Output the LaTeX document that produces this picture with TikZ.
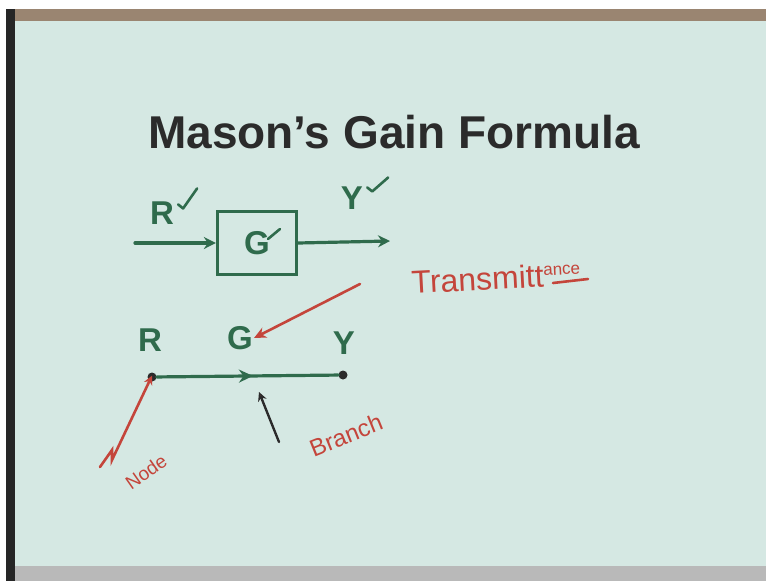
\documentclass[tikz,border=0pt]{standalone}
\usepackage{fontspec}
\setmainfont{Liberation Sans}
\usetikzlibrary{arrows.meta,decorations.markings}
\definecolor{board}{HTML}{D5E8E3}
\definecolor{pen}{HTML}{2F6B4C}
\definecolor{redpen}{HTML}{C4453B}
\definecolor{ink}{HTML}{2B2B2B}
\definecolor{frame}{HTML}{9A8571}
\begin{document}
\begin{tikzpicture}[x=1pt,y=-1pt,
  greenline/.style={draw=pen,line width=3.2pt,line cap=round},
  redline/.style={draw=redpen,line width=2.6pt,line cap=round},
  glabel/.style={text=pen,font=\bfseries\fontsize{33}{33}\selectfont,inner sep=1pt},
  rlabel/.style={text=redpen,inner sep=1pt},
  tick/.style={draw=pen,line width=2.6pt,line cap=round,line join=round},
  dotnode/.style={circle,fill=ink,inner sep=0pt,minimum size=9pt},
  blockbox/.style={draw=pen,line width=3.2pt,minimum width=79pt,minimum height=63pt,text=pen,font=\bfseries\fontsize{33}{33}\selectfont}]
\useasboundingbox (0,0) rectangle (766,581);
% photo frame and board
\fill[white] (0,0) rectangle (766,581);
\fill[board] (14,20) rectangle (766,567);
\fill[frame] (8,9) rectangle (766,21);
\fill[black!85] (6,9) rectangle (15,581);
\fill[gray!55] (15,566) rectangle (766,581);
% title
\node[text=ink,font=\bfseries\fontsize{46}{46}\selectfont] (title) at (394,132) {Mason's Gain Formula};
% block diagram
\node[blockbox] (G1) at (257,243) {G};
\coordinate (in) at (135,243);
\coordinate (out) at (390,241);
\draw[greenline,-{Stealth[length=12pt,width=12pt]}] (in) -- (G1.west);
\draw[greenline,-{Stealth[length=12pt,width=12pt]}] (G1.east) -- (out);
\node[glabel] (R1) at (162,213) {R};
\node[glabel] (Y1) at (352,198) {Y};
\draw[tick] ([xshift=3pt,yshift=-4pt]R1.north east) -- ++(5,4) -- ++(14,-20);
\draw[tick] ([xshift=3pt,yshift=-2pt]Y1.north east) -- ++(5,4) -- ++(16,-14);
\draw[tick] (G1.center) ++(11,-4) -- ++(12,-10);
% transmittance
\node[rlabel,rotate=3,font=\fontsize{32}{32}\selectfont] (trans) at (496,278) {Transmitt\raisebox{11pt}{\fontsize{17}{17}\selectfont ance}};
\coordinate (ul1) at (553,283);
\coordinate (ul2) at (588,279);
\draw[redline] (ul1) -- (ul2);
% signal flow graph
\node[dotnode] (n1) at (152,377) {};
\node[dotnode] (n2) at (343,375) {};
\node[glabel] (R2) at (150,340) {R};
\node[glabel] (G2) at (240,338) {G};
\node[glabel] (Y2) at (344,343) {Y};
\draw[greenline,postaction={decorate},decoration={markings,mark=at position 0.53 with {\arrow{Stealth[length=14pt,width=13pt]}}}] (n1) -- (n2);
\coordinate (ra) at (360,284);
\draw[redline,-{Stealth[length=12pt,width=11pt]}] (ra) -- (G2.east);
% node annotation
\node[rlabel,rotate=35,font=\fontsize{19}{19}\selectfont] (nodetxt) at (146,472) {Node};
\coordinate (sq) at (100,467);
\draw[redline,-{Stealth[length=9pt,width=9pt]}] (sq) -- (112,450) -- (112,460) -- ([yshift=6pt]n1.south);
% branch annotation
\node[rlabel,rotate=22,font=\fontsize{24}{24}\selectfont] (branchtxt) at (346,435) {Branch};
\coordinate (bs) at (279,442);
\draw[draw=ink,line width=2.4pt,line cap=round,-{Stealth[length=9pt,width=9pt,fill=redpen]}] (bs) -- (259,392);
\end{tikzpicture}
\end{document}
